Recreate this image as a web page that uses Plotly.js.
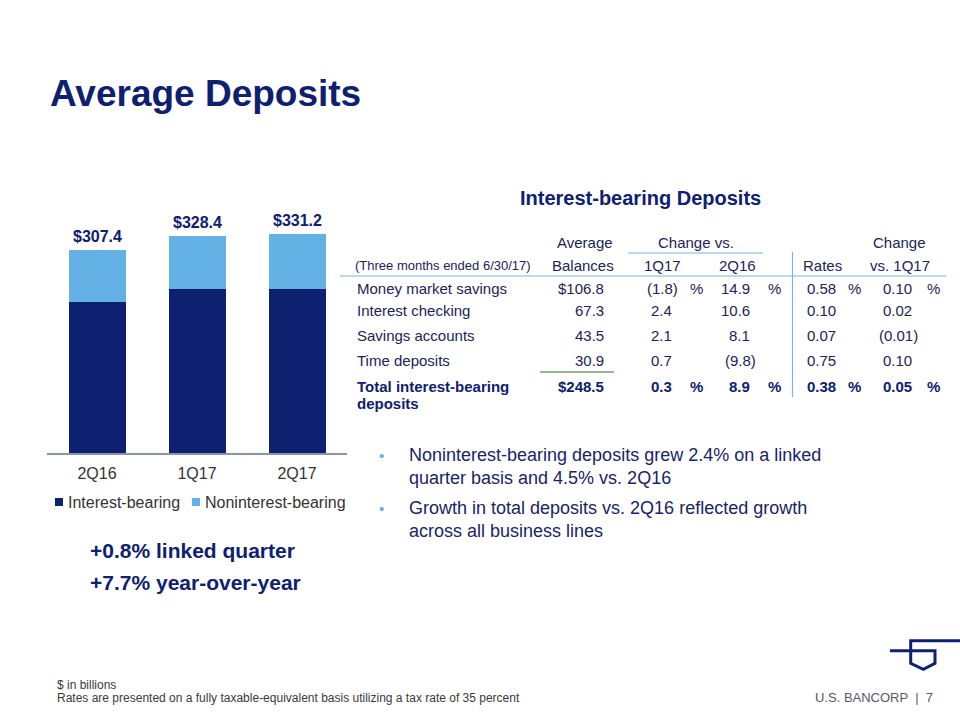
<!DOCTYPE html>
<html>
<head>
<meta charset="utf-8">
<script src="https://cdn.plot.ly/plotly-3.0.1.min.js"></script>
<style>html,body{margin:0;padding:0;background:#fff;}#chart{width:960px;height:720px;}</style>
</head>
<body>
<div id="chart"></div>
<script>
// ---- data ----
const categories = ['2Q16', '1Q17', '2Q17'];
const interestBearing = [228.2, 247.8, 248.5];
const nonInterestBearing = [79.2, 80.6, 82.7];
const totals = [307.4, 328.4, 331.2];
const seriesNames = ['Interest-bearing', 'Noninterest-bearing'];

const rowLabels = ['Money market savings', 'Interest checking', 'Savings accounts', 'Time deposits', 'Total interest-bearing<br>deposits'];
const avgBalances = [106.8, 67.3, 43.5, 30.9, 248.5];
const changeVs1Q17 = [-1.8, 2.4, 2.1, 0.7, 0.3];
const changeVs2Q16 = [14.9, 10.6, 8.1, -9.8, 8.9];
const rates = [0.58, 0.10, 0.07, 0.75, 0.38];
const rateChangeVs1Q17 = [0.10, 0.02, -0.01, 0.10, 0.05];

// ---- styling ----
const NAVY = '#0e2070';
const LIGHT = '#64b1e6';
const TXT = '#1c2454';
const W = 960, H = 720;
const px = x => x / W;
const py = y => 1 - y / H;
const FONT = 'Arial, "Liberation Sans", Helvetica, sans-serif';
const seriesColors = [NAVY, LIGHT];

const traces = [
  { type: 'bar', name: seriesNames[0], x: categories, y: interestBearing,
    marker: { color: seriesColors[0] }, hoverinfo: 'x+y+name' },
  { type: 'bar', name: seriesNames[1], x: categories, y: nonInterestBearing,
    marker: { color: seriesColors[1] }, hoverinfo: 'x+y+name' }
];

const ann = [];
const shapes = [];
function txt(text, x, y, opt) {
  opt = opt || {};
  ann.push(Object.assign({
    text: text, xref: 'paper', yref: 'paper', x: px(x), y: py(y),
    xanchor: 'left', yanchor: 'middle', showarrow: false,
    font: { family: FONT, size: 15, color: TXT }
  }, opt));
}
function line(x0, y0, x1, y1, color, width) {
  shapes.push({ type: 'line', xref: 'paper', yref: 'paper',
    x0: px(x0), y0: py(y0), x1: px(x1), y1: py(y1),
    line: { color: color, width: width || 1 } });
}

// bar totals
categories.forEach((c, i) => {
  ann.push({ text: '$' + totals[i].toFixed(1), x: c, y: totals[i], xref: 'x', yref: 'y',
    xanchor: 'center', yanchor: 'bottom', yshift: 3, showarrow: false,
    font: { family: FONT, size: 16, color: NAVY, weight: 'bold' } });
});

// legend (drawn manually to match compact swatches)
const legendX = [55, 192];
seriesNames.forEach((n, i) => {
  shapes.push({ type: 'rect', xref: 'paper', yref: 'paper',
    x0: px(legendX[i]), x1: px(legendX[i] + 8), y0: py(506), y1: py(498),
    fillcolor: seriesColors[i], line: { width: 0 } });
  txt(n, legendX[i] + 11, 502, { font: { family: FONT, size: 16, color: '#333333' } });
});

// title
txt('Average Deposits', 48, 94, { font: { family: FONT, size: 37, color: NAVY, weight: 'bold' } });

// table title
txt('Interest-bearing Deposits', 640, 198, { xanchor: 'center', font: { family: FONT, size: 20, color: NAVY, weight: 'bold' } });

// headers
txt('Average', 585, 242, { xanchor: 'center' });
txt('Change vs.', 696, 242, { xanchor: 'center' });
txt('Change', 899, 242, { xanchor: 'center' });
txt('(Three months ended 6/30/17)', 353, 265, { font: { family: FONT, size: 13, color: TXT } });
txt('Balances', 583, 265, { xanchor: 'center' });
txt('1Q17', 662, 265, { xanchor: 'center' });
txt('2Q16', 737, 265, { xanchor: 'center' });
txt('Rates', 822, 265, { xanchor: 'center' });
txt('vs. 1Q17', 900, 265, { xanchor: 'center' });

line(628, 253, 763, 253, '#7fb2dc', 1.2);
line(340, 276, 946, 276, '#7fb2dc', 1.2);
line(792.5, 252, 792.5, 397, '#7fb2dc', 1.2);
line(540, 372, 614, 372, '#7a9e6a', 1.5);

// rows
const rowY = [288, 310, 335, 360, 386];
const colRight = [606, 674, 752, 838, 914];
const pctLeft = [null, 688, 766, 846, 925];
function fmt(v, d) {
  return v < 0 ? '(' + Math.abs(v).toFixed(d) + ')' : v.toFixed(d);
}
rowLabels.forEach((lab, i) => {
  const last = i === rowLabels.length - 1;
  const f = { family: FONT, size: 15, color: last ? NAVY : TXT, weight: last ? 'bold' : 'normal' };
  lab.split('<br>').forEach((part, k) => txt(part, 355, rowY[i] + k * 17, { font: f }));
  const showPct = (i === 0 || last);
  const bal = (showPct ? '$' : '') + avgBalances[i].toFixed(1);
  const cols = [bal, fmt(changeVs1Q17[i], 1), fmt(changeVs2Q16[i], 1), fmt(rates[i], 2), fmt(rateChangeVs1Q17[i], 2)];
  cols.forEach((s, c) => {
    const shift = s.endsWith(')') ? 5.5 : 0;
    txt(s, colRight[c] + shift, rowY[i], { xanchor: 'right', font: f });
    if (showPct && pctLeft[c]) txt('%', pctLeft[c], rowY[i], { font: f });
  });
});

// bullets
const bulletFont = { family: FONT, size: 18, color: '#1a2466' };
txt('•', 377, 455, { font: { family: FONT, size: 15, color: '#6aaede' } });
txt('Noninterest-bearing deposits grew 2.4% on a linked<br>quarter basis and 4.5% vs. 2Q16', 407, 466.5, { font: bulletFont, align: 'left' });
txt('•', 377, 508, { font: { family: FONT, size: 15, color: '#6aaede' } });
txt('Growth in total deposits vs. 2Q16 reflected growth<br>across all business lines', 407, 519.5, { font: bulletFont, align: 'left' });

// big stats
const statFont = { family: FONT, size: 21, color: NAVY, weight: 'bold' };
txt('+0.8% linked quarter', 88, 550, { font: statFont });
txt('+7.7% year-over-year', 88, 582, { font: statFont });

// footer
const footFont = { family: FONT, size: 12, color: '#3a3a3a' };
txt('$ in billions', 55, 685, { font: footFont });
txt('Rates are presented on a fully taxable-equivalent basis utilizing a tax rate of 35 percent', 55, 698, { font: footFont });
txt('U.S. BANCORP  |  7', 935, 697, { xanchor: 'right', font: { family: FONT, size: 13, color: '#555a66' } });

// logo
const logoPts = [[960, 640.7], [910.7, 640.7], [910.7, 663.3], [923.3, 669.3], [935, 663.3], [935, 650.7], [890, 650.7]];
shapes.push({ type: 'path', xref: 'paper', yref: 'paper',
  path: logoPts.map((p, i) => (i ? 'L' : 'M') + px(p[0]).toFixed(5) + ',' + py(p[1]).toFixed(5)).join(' '),
  line: { color: NAVY, width: 3 } });

const layout = {
  width: W, height: H, autosize: false,
  margin: { l: 0, r: 0, t: 0, b: 0 },
  paper_bgcolor: '#ffffff', plot_bgcolor: '#ffffff',
  barmode: 'stack', bargap: 0.43,
  showlegend: false,
  xaxis: { domain: [px(47), px(347)], showline: true, linecolor: '#8a94a8', linewidth: 1.5,
    ticks: '', showgrid: false, zeroline: false, ticklabelstandoff: 5,
    tickfont: { family: FONT, size: 16, color: '#333333' }, fixedrange: true },
  yaxis: { domain: [py(453), py(200)], range: [0, 383], visible: false, showgrid: false, zeroline: false, fixedrange: true },
  annotations: ann,
  shapes: shapes,
  font: { family: FONT }
};

Plotly.newPlot('chart', traces, layout, { displayModeBar: false, staticPlot: true });
</script>
</body>
</html>
